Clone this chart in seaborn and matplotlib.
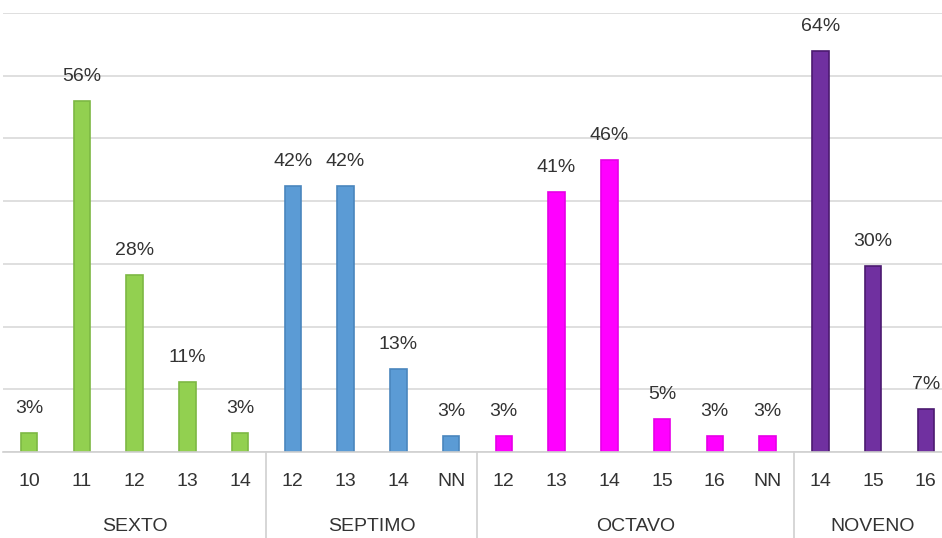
import pandas as pd
import numpy as np
import matplotlib.pyplot as plt
import seaborn as sns
from matplotlib.transforms import blended_transform_factory

# Data (percent per age inside each grade)
grados = ['SEXTO', 'SEPTIMO', 'OCTAVO', 'NOVENO']
edades_sexto = ['10', '11', '12', '13', '14']
edades_septimo = ['12', '13', '14', 'NN']
edades_octavo = ['12', '13', '14', '15', '16', 'NN']
edades_noveno = ['14', '15', '16']
pct_sexto = [3.0, 56.0, 28.2, 11.2, 3.0]
pct_septimo = [42.4, 42.4, 13.2, 2.6]
pct_octavo = [2.6, 41.4, 46.5, 5.3, 2.6, 2.6]
pct_noveno = [63.9, 29.7, 6.9]

colores = {'SEXTO': '#92D050', 'SEPTIMO': '#5B9BD5', 'OCTAVO': '#FF00FF', 'NOVENO': '#7030A0'}
bordes = {'SEXTO': '#7DB843', 'SEPTIMO': '#4A86BE', 'OCTAVO': '#E600E6', 'NOVENO': '#4B1A70'}

rows = []
for g, ages, vals in zip(grados,
                         [edades_sexto, edades_septimo, edades_octavo, edades_noveno],
                         [pct_sexto, pct_septimo, pct_octavo, pct_noveno]):
    for a, v in zip(ages, vals):
        rows.append({'grado': g, 'edad': a, 'key': g + '-' + a, 'pct': v})
df = pd.DataFrame(rows)

sns.set_style('white')
plt.rcParams['font.family'] = ['Liberation Sans', 'DejaVu Sans']
text_color = '#333333'

fig = plt.figure(figsize=(9.42, 5.38), dpi=100)
ax = fig.add_axes([2.7 / 942, 86 / 538, 949.5 / 942, 439 / 538])

sns.barplot(data=df, x='key', y='pct', hue='grado', palette=colores,
            dodge=False, width=0.31, saturation=1, legend=False, ax=ax,
            order=df['key'])

# edge colors per grade
for bar_container, g in zip(ax.containers, grados):
    for patch in bar_container:
        patch.set_edgecolor(bordes[g])
        patch.set_linewidth(1.2)

# value labels
for i, row in df.iterrows():
    ax.annotate(f"{row['pct']:.0f}%", (i, row['pct']), xytext=(0, 11.5),
                textcoords='offset points', ha='center', va='bottom',
                fontsize=14, color=text_color)

ax.set_xlim(-0.5, len(df) - 0.5)
ax.set_ylim(0, 70)
ax.set_yticks(np.arange(0, 71, 10))
ax.set_yticklabels([])
ax.tick_params(axis='y', length=0)
ax.yaxis.grid(True, color='#D9D9D9', linewidth=1.2)
ax.set_axisbelow(True)

ax.set_xticks(range(len(df)))
ax.set_xticklabels(df['edad'], fontsize=14, color=text_color)
ax.tick_params(axis='x', length=0, pad=15)
ax.set_xlabel('')
ax.set_ylabel('')

for s in ['top', 'left', 'right']:
    ax.spines[s].set_visible(False)
ax.spines['bottom'].set_color('#D0D0D0')
ax.spines['bottom'].set_linewidth(1.2)

# grade labels and separators under the axis
trans = blended_transform_factory(ax.transData, ax.transAxes)
start = 0
for g in grados:
    n = (df['grado'] == g).sum()
    center = start + (n - 1) / 2
    ax.text(center, -0.17, g, transform=trans, ha='center', va='center',
            fontsize=14, color=text_color)
    end = start + n
    if end < len(df):
        ax.plot([end - 0.5, end - 0.5], [0, -0.2], transform=trans,
                color='#D0D0D0', linewidth=1.2, clip_on=False)
    start = end

fig.savefig('out.png', dpi=100)
